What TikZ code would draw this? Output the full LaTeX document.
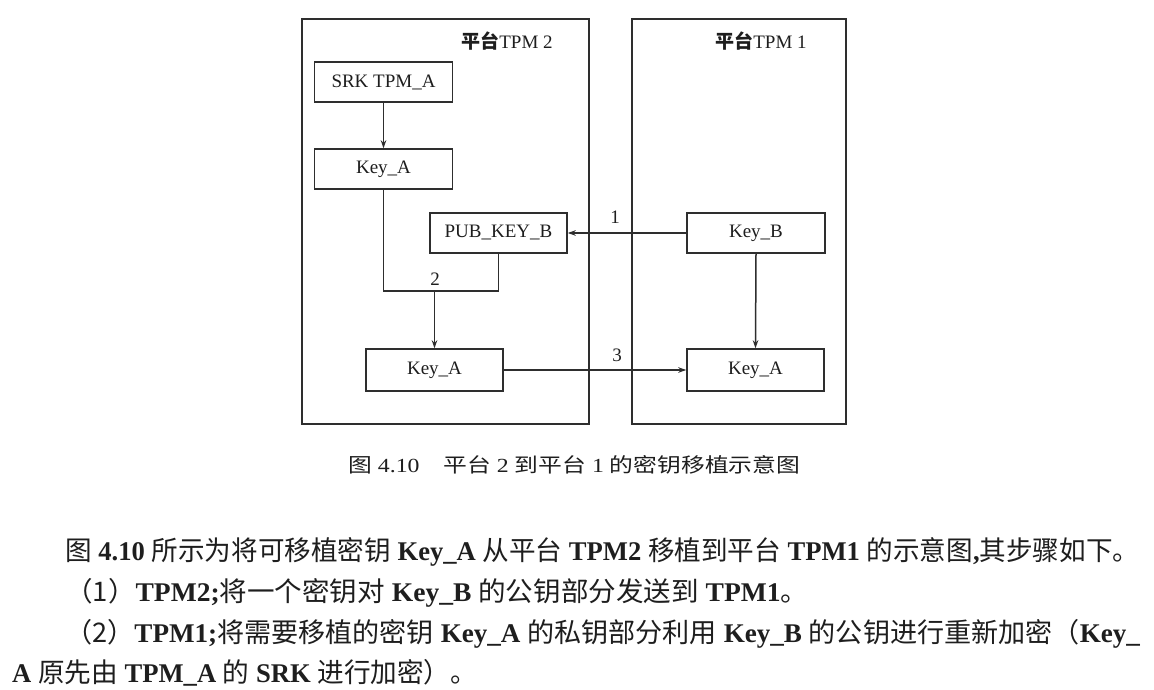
\documentclass[tikz,border=0pt]{standalone}
\usepackage{fontspec}
\usepackage{graphicx}
\setmainfont{Liberation Serif}
\newfontfamily\cjk{Noto Sans CJK SC}
\newcommand\zh[1]{{\cjk #1}}
\usetikzlibrary{arrows.meta}
\definecolor{ln}{HTML}{2E2E2E}
\definecolor{tx}{HTML}{1E1E1E}
\begin{document}
\begin{tikzpicture}[x=1pt,y=-1pt,
  box/.style={draw=ln, line width=1.5pt, inner sep=0pt, minimum width=138pt, minimum height=40pt, font=\fontsize{19}{22}\selectfont, text=tx},
  plat/.style={draw=ln, line width=1.5pt, inner sep=0pt},
  conn/.style={draw=ln, line width=1.5pt},
  arr/.style={conn, -{Stealth[length=8pt,width=5.5pt]}},
  num/.style={font=\fontsize{19}{22}\selectfont, text=tx, inner sep=0pt},
  para/.style={anchor=west, inner sep=0pt, text=tx, font=\fontsize{27}{30}\selectfont}
]
\useasboundingbox (0,0) rectangle (1154,690);
\fill[white] (0,0) rectangle (1154,690);

% platforms
\node[plat, minimum width=287pt, minimum height=405pt] (p2) at (445.5,221.5) {};
\node[plat, minimum width=214pt, minimum height=405pt] (p1) at (739,221.5) {};
\node[num] (l2) at (507,41) {\zh{\bfseries 平台}TPM 2};
\node[num] (l1) at (761,41) {\zh{\bfseries 平台}TPM 1};

% boxes
\node[box] (srk) at (383.5,82) {SRK TPM\_A};
\node[box] (ka1) at (383.5,169) {Key\_A};
\node[box, minimum width=137pt] (pub) at (498.5,233) {PUB\_KEY\_B};
\node[box] (kb) at (756,233) {Key\_B};
\node[box, minimum width=137pt, minimum height=42pt] (ka2) at (434.5,370) {Key\_A};
\node[box, minimum width=137pt, minimum height=42pt] (ka3) at (755.5,370) {Key\_A};

% connectors
\coordinate (m) at (0,291);
\draw[arr] (srk.south) -- (ka1.north);
\draw[arr] (kb.west) -- (pub.east);
\draw[conn] (ka1.south) |- (pub.south |- m) -- (pub.south);
\draw[arr] (ka2.north |- m) -- (ka2.north);
\draw[arr] (ka2.east) -- (ka3.west);
\draw[arr] (kb.south) -- (ka3.north);
\node[num] (n1) at (615,217) {1};
\node[num] (n2) at (435,279) {2};
\node[num] (n3) at (617,355) {3};

% caption
\node[anchor=west, inner sep=0pt, text=tx] (cap) at (348,465)
  {\resizebox{452pt}{\height}{\fontsize{20}{24}\selectfont\zh{图} 4.10\zh{　平台} 2 \zh{到平台} 1 \zh{的密钥移植示意图}}};

% paragraph
\node[para] (t1) at (65,552)
  {\resizebox{1074pt}{\height}{\zh{图} \textbf{4.10} \zh{所示为将可移植密钥} \textbf{Key\_A} \zh{从平台} \textbf{TPM2} \zh{移植到平台} \textbf{TPM1} \zh{的示意图}\textbf{,}\zh{其步骤如下。}}};
\node[para] (t2) at (65,593)
  {\resizebox{743pt}{\height}{\zh{（1）}\textbf{TPM2;}\zh{将一个密钥对} \textbf{Key\_B} \zh{的公钥部分发送到} \textbf{TPM1}\zh{。}}};
\node[para] (t3) at (65,634)
  {\resizebox{1075pt}{\height}{\zh{（2）}\textbf{TPM1;}\zh{将需要移植的密钥} \textbf{Key\_A} \zh{的私钥部分利用} \textbf{Key\_B} \zh{的公钥进行重新加密（}\textbf{Key\_}}};
\node[para] (t4) at (12,673)
  {\resizebox{465pt}{\height}{\textbf{A} \zh{原先由} \textbf{TPM\_A} \zh{的} \textbf{SRK} \zh{进行加密）。}}};
\end{tikzpicture}
\end{document}
